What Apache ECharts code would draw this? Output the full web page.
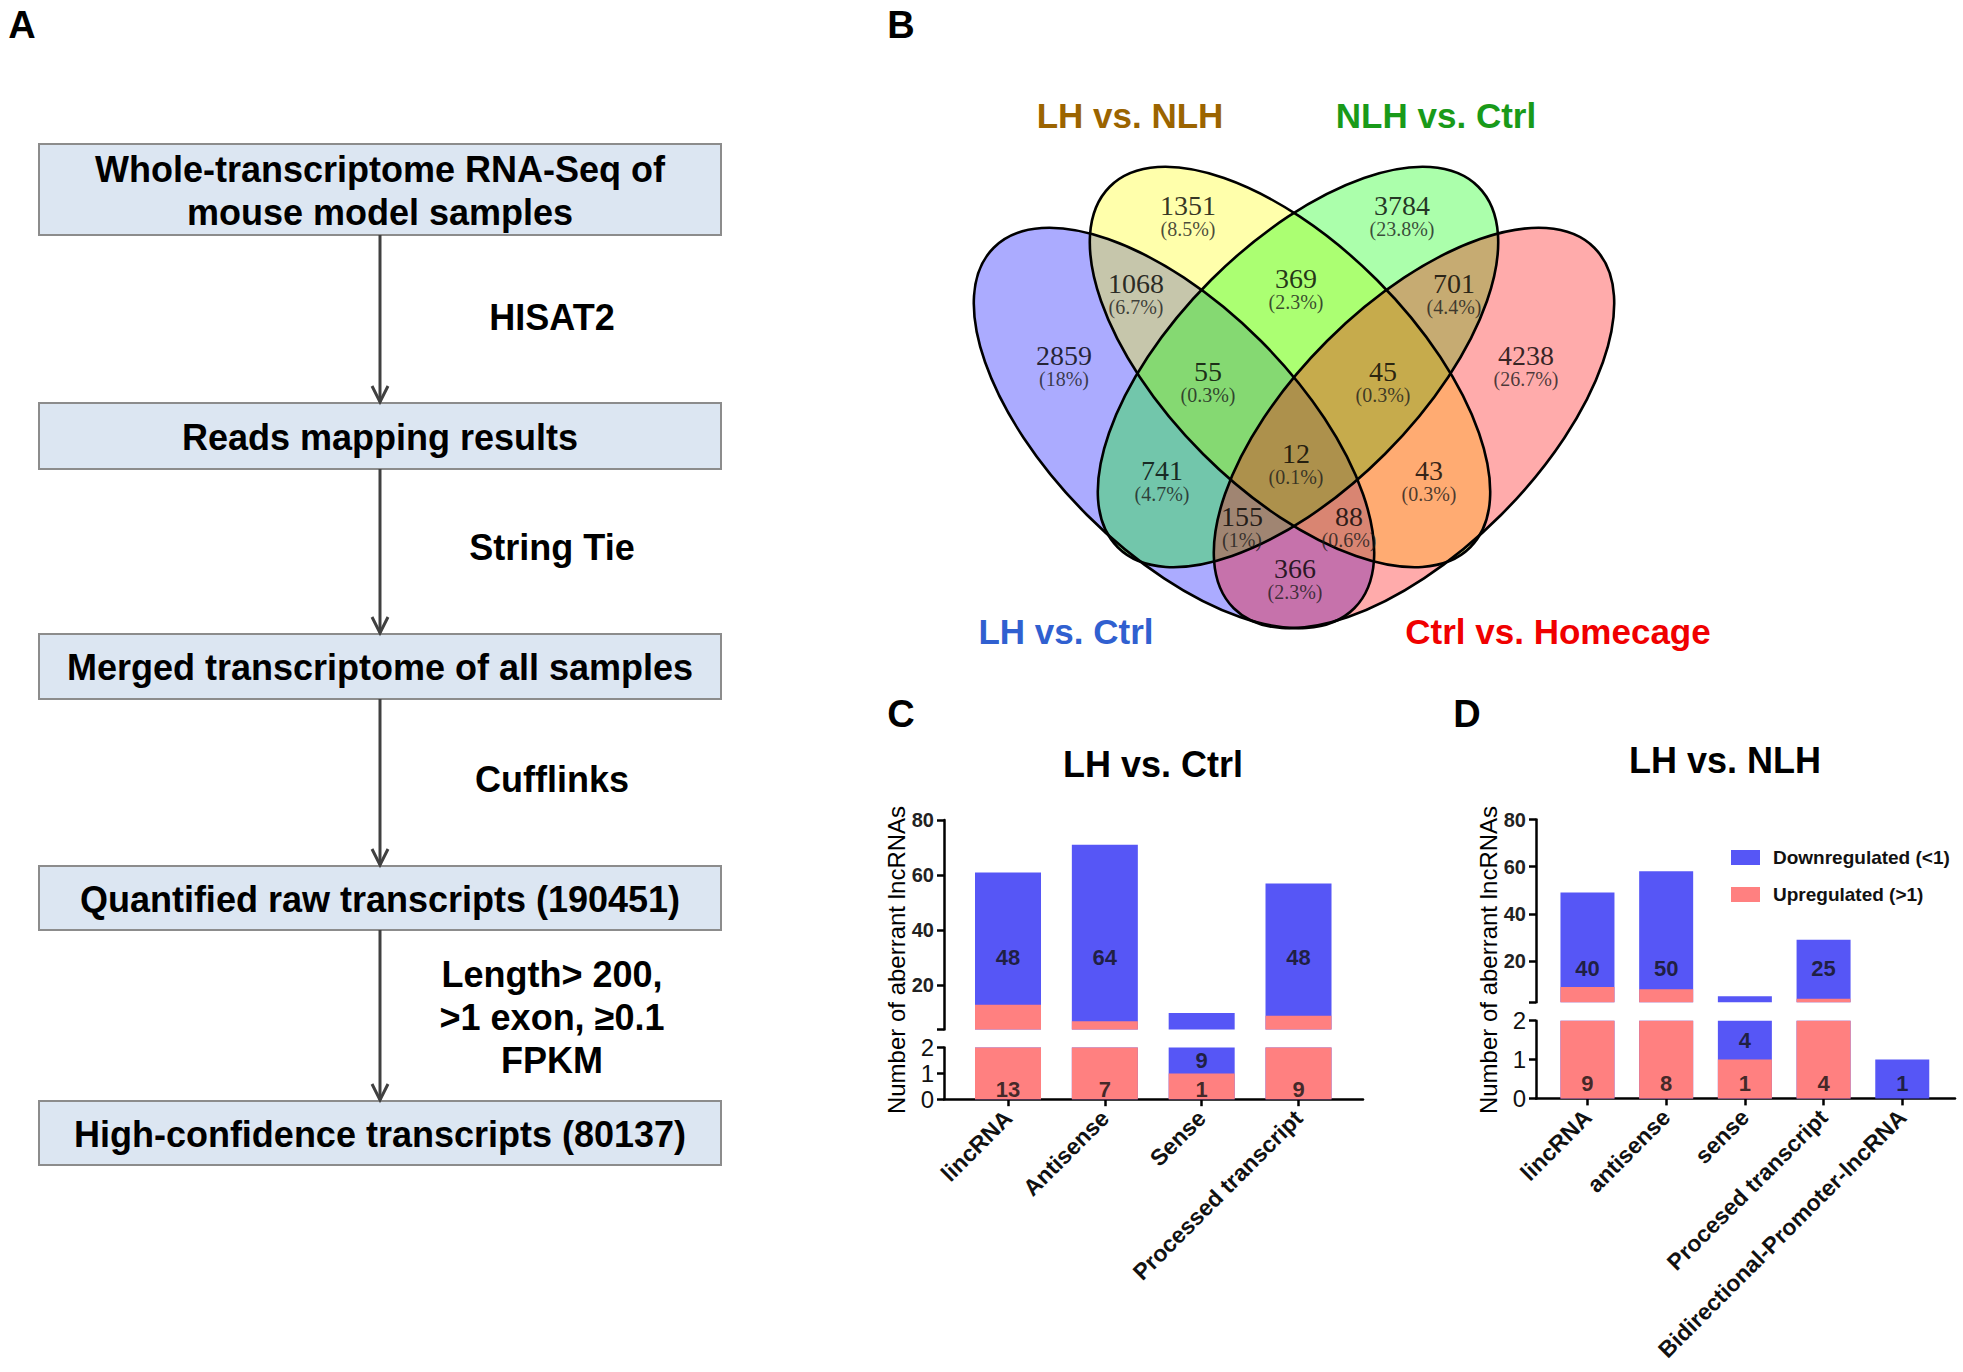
<!DOCTYPE html>
<html><head><meta charset="utf-8">
<script src="https://cdn.jsdelivr.net/npm/echarts@6/dist/echarts.min.js"></script>
<style>html,body{margin:0;padding:0;background:#fff}#main{width:1963px;height:1372px}</style>
</head><body><div id="main"></div>
<script>
// ================= DATA =================
// Panel A: pipeline steps
const flowSteps = ['Whole-transcriptome RNA-Seq of\nmouse model samples', 'Reads mapping results',
  'Merged transcriptome of all samples', 'Quantified raw transcripts (190451)', 'High-confidence transcripts (80137)'];
const flowTools = ['HISAT2', 'String Tie', 'Cufflinks', 'Length> 200,\n>1 exon, \u22650.1\nFPKM'];

// Panel B: Venn
const vennSets = ['LH vs. Ctrl', 'LH vs. NLH', 'NLH vs. Ctrl', 'Ctrl vs. Homecage'];
const vennRegions = ['B', 'Y', 'G', 'R', 'BY', 'YG', 'GR', 'BR', 'BG', 'YR', 'BYG', 'YGR', 'BGR', 'BYR', 'BYGR'];
const vennCounts = [2859, 1351, 3784, 4238, 1068, 369, 701, 366, 741, 43, 55, 45, 155, 88, 12];
const vennPercents = ['18%', '8.5%', '23.8%', '26.7%', '6.7%', '2.3%', '4.4%', '2.3%', '4.7%', '0.3%', '0.3%', '0.3%', '1%', '0.6%', '0.1%'];

// Panel C: LH vs. Ctrl
const cCategories = ['lincRNA', 'Antisense', 'Sense', 'Processed transcript'];
const cUp = [13, 7, 1, 9];
const cDown = [48, 64, 9, 48];
// Panel D: LH vs. NLH
const dCategories = ['lincRNA', 'antisense', 'sense', 'Procesed transcript', 'Bidirectional-Promoter-lncRNA'];
const dUp = [9, 8, 1, 4, 0];
const dDown = [40, 50, 4, 25, 1];

const upperTickLabels = [20, 40, 60, 80];
const lowerTickLabels = [0, 1, 2];
const seriesNames = ['Downregulated (<1)', 'Upregulated (>1)'];

// ================= LAYOUT / STYLE =================
const BLUE = '#5656F6', PINK = '#FF8080';
const SANS = '"Liberation Sans", Arial, sans-serif';
const SERIF = '"Liberation Serif", "Times New Roman", serif';

const flowBoxLayout = [{y: 144, h: 91}, {y: 403, h: 66}, {y: 634, h: 65}, {y: 866, h: 64}, {y: 1101, h: 64}];
const flowBoxX = 39, flowBoxW = 682, flowArrowX = 380, flowToolX = 552;
const toolY = [317, 547, 779, 1017];

// Venn geometry in a local frame (grid 4: origin at 960,140, 1 unit = 1px)
const vennEllipses = [
  {cx: 214, cy: 288, a: 255, b: 123, rot: -45, fill: 'rgba(0,0,255,0.33)'},
  {cx: 330, cy: 227, a: 255, b: 123, rot: -45, fill: 'rgba(255,255,0,0.33)'},
  {cx: 338, cy: 227, a: 255, b: 123, rot: 45, fill: 'rgba(0,255,0,0.33)'},
  {cx: 454, cy: 288, a: 255, b: 123, rot: 45, fill: 'rgba(255,0,0,0.33)'}
];
const vennLabelPos = [[104, 215], [228, 65], [442, 65], [566, 215], [176, 143], [336, 138], [494, 143],
  [335, 428], [202, 330], [469, 330], [248, 231], [423, 231], [282, 376], [389, 376], [336, 313]];
const vennSetLabelLayout = [
  {x: 1066, y: 631, color: '#3060D0'}, {x: 1130, y: 115, color: '#9B6400'},
  {x: 1436, y: 115, color: '#199A19'}, {x: 1558, y: 631, color: '#F00000'}
];

const C_LABEL_UPPER = 30, D_LABEL_UPPER = 17;

// ================= BUILD =================
const graphic = [];
[['A', 22, 25], ['B', 901, 25], ['C', 901, 714], ['D', 1467, 714]].forEach(([t, x, y]) => {
  graphic.push({type: 'text', style: {text: t, x, y, textAlign: 'center', textVerticalAlign: 'middle',
    font: 'bold 38px ' + SANS, fill: '#000'}});
});
flowSteps.forEach((s, i) => {
  const L = flowBoxLayout[i];
  graphic.push({type: 'rect', shape: {x: flowBoxX, y: L.y, width: flowBoxW, height: L.h},
    style: {fill: '#DCE6F2', stroke: '#8C8C8C', lineWidth: 2}});
  graphic.push({type: 'text', style: {text: s, x: flowBoxX + flowBoxW / 2, y: L.y + L.h / 2 + 1,
    textAlign: 'center', textVerticalAlign: 'middle', font: 'bold 36px ' + SANS, fill: '#000', lineHeight: 43}});
});
flowTools.forEach((t, i) => {
  const top = flowBoxLayout[i].y + flowBoxLayout[i].h, bot = flowBoxLayout[i + 1].y;
  graphic.push({type: 'line', shape: {x1: flowArrowX, y1: top, x2: flowArrowX, y2: bot - 1},
    style: {stroke: '#404040', lineWidth: 3}});
  graphic.push({type: 'polyline', shape: {points: [[flowArrowX - 8, bot - 17], [flowArrowX, bot - 1], [flowArrowX + 8, bot - 17]]},
    style: {stroke: '#404040', lineWidth: 3, fill: null}});
  graphic.push({type: 'text', style: {text: t, x: flowToolX, y: toolY[i], textAlign: 'center', textVerticalAlign: 'middle',
    font: 'bold 36px ' + SANS, fill: '#000', lineHeight: 43}});
});
vennSets.forEach((s, i) => {
  const L = vennSetLabelLayout[i];
  graphic.push({type: 'text', style: {text: s, x: L.x, y: L.y, textAlign: 'center', textVerticalAlign: 'middle',
    font: 'bold 35px ' + SANS, fill: L.color}});
});
[['LH vs. Ctrl', 1153, 764], ['LH vs. NLH', 1725, 760]].forEach(([t, x, y]) => {
  graphic.push({type: 'text', style: {text: t, x, y, textAlign: 'center', textVerticalAlign: 'middle',
    font: 'bold 36px ' + SANS, fill: '#000'}});
});
[896, 1488].forEach(x => {
  graphic.push({type: 'text', x: x, y: 960, rotation: Math.PI / 2,
    style: {text: 'Number of aberrant lncRNAs', x: 0, y: 0, textAlign: 'center', textVerticalAlign: 'middle',
      font: '24px ' + SANS, fill: '#000'}});
});

const grids = [
  {left: 944, top: 820, width: 419, height: 209.5},     // C upper
  {left: 944, top: 1047.6, width: 419, height: 51.6},   // C lower
  {left: 1536, top: 819.5, width: 419, height: 182.7},  // D upper
  {left: 1536, top: 1020.7, width: 419, height: 77.7},  // D lower
  {left: 960, top: 140, width: 680, height: 520}        // Venn frame
].map(g => Object.assign({outerBoundsMode: 'none', containLabel: false}, g));

function xAxisFor(gi, cats, min, max, showAxis) {
  const idx = cats.map((c, i) => i);
  return {
    gridIndex: gi, type: 'value', min, max, show: showAxis,
    splitLine: {show: false},
    axisLine: {show: true, onZero: false, lineStyle: {color: '#000', width: 2.5}},
    axisTick: {show: true, customValues: idx, length: 7, lineStyle: {color: '#000', width: 2.5}},
    axisLabel: {show: true, customValues: idx, rotate: 45, margin: 15, hideOverlap: false,
      formatter: v => cats[Math.round(v)] || '', fontFamily: SANS, fontWeight: 'bold', fontSize: 23, color: '#111'}
  };
}
function yUpper(gi, min) {
  return {
    gridIndex: gi, type: 'value', min, max: 80,
    splitLine: {show: false},
    axisLine: {show: true, onZero: false, lineStyle: {color: '#000', width: 2.5}},
    axisTick: {show: true, customValues: [min].concat(upperTickLabels), length: 7, lineStyle: {color: '#000', width: 2.5}},
    axisLabel: {customValues: upperTickLabels, margin: 10, fontFamily: SANS, fontWeight: 'bold', fontSize: 20, color: '#222'}
  };
}
function yLower(gi) {
  return {
    gridIndex: gi, type: 'value', min: 0, max: 2,
    splitLine: {show: false},
    axisLine: {show: true, onZero: false, lineStyle: {color: '#000', width: 2.5}},
    axisTick: {show: true, customValues: lowerTickLabels, length: 7, lineStyle: {color: '#000', width: 2.5}},
    axisLabel: {customValues: lowerTickLabels, margin: 10, fontFamily: SANS, fontSize: 24, color: '#111'}
  };
}

const xAxis = [
  xAxisFor(0, cCategories, -0.661, 3.666, false),
  xAxisFor(1, cCategories, -0.661, 3.666, true),
  xAxisFor(2, dCategories, -0.654, 4.67, false),
  xAxisFor(3, dCategories, -0.654, 4.67, true),
  {gridIndex: 4, type: 'value', min: 0, max: 680, show: false}
];
const yAxis = [
  yUpper(0, 4), yLower(1), yUpper(2, 2.5), yLower(3),
  {gridIndex: 4, type: 'value', min: 0, max: 520, inverse: true, show: false}
];

// Stacked columns: the downregulated part sits on top of the upregulated part,
// so the blue column spans 0..(up+down) and the pink column 0..up is drawn over it.
function barSeries(ai, up, down, width) {
  return [
    {type: 'bar', name: seriesNames[0], xAxisIndex: ai, yAxisIndex: ai, barWidth: width, barGap: '-100%',
      clip: true, itemStyle: {color: BLUE}, data: down.map((v, i) => [i, up[i] + v])},
    {type: 'bar', name: seriesNames[1], xAxisIndex: ai, yAxisIndex: ai, barWidth: width, barGap: '-100%',
      clip: true, itemStyle: {color: PINK}, data: up.map((v, i) => [i, v])}
  ];
}
const labelStyle = {show: true, position: 'inside', fontFamily: SANS, fontWeight: 'bold', fontSize: 22, color: '#111',
  formatter: p => String(p.value[2])};
function labelSeries(upperIdx, lowerIdx, up, down, upperY) {
  const upperData = [], lowerData = [];
  down.forEach((d, i) => {
    if (d >= 20) upperData.push([i, upperY, d]);
    else lowerData.push([i, up[i] > 0 ? 1.5 : 0.38, d]);
  });
  up.forEach((u, i) => { if (u > 0) lowerData.push([i, 0.38, u]); });
  const base = {type: 'scatter', symbolSize: 1, silent: true, z: 5, itemStyle: {color: 'rgba(0,0,0,0)'}, label: labelStyle};
  return [
    Object.assign({}, base, {name: 'lab' + upperIdx, xAxisIndex: upperIdx, yAxisIndex: upperIdx, data: upperData}),
    Object.assign({}, base, {name: 'lab' + lowerIdx, xAxisIndex: lowerIdx, yAxisIndex: lowerIdx, data: lowerData})
  ];
}

function ellipseRenderer(isLine) {
  return (params, api) => {
    const e = vennEllipses[params.dataIndex];
    const c = api.coord([api.value(0), api.value(1)]);
    const s = api.size([e.a, e.b]);
    return {type: 'ellipse', x: c[0], y: c[1], rotation: e.rot * Math.PI / 180,
      shape: {cx: 0, cy: 0, rx: s[0], ry: s[1]},
      style: isLine ? {fill: null, stroke: '#000', lineWidth: 2.6} : {fill: e.fill, stroke: null}};
  };
}

const series = [].concat(
  barSeries(0, cUp, cDown, 66), barSeries(1, cUp, cDown, 66),
  barSeries(2, dUp, dDown, 54), barSeries(3, dUp, dDown, 54),
  labelSeries(0, 1, cUp, cDown, C_LABEL_UPPER), labelSeries(2, 3, dUp, dDown, D_LABEL_UPPER),
  [
    {type: 'custom', name: 'venn-fill', xAxisIndex: 4, yAxisIndex: 4, silent: true, z: 2,
      data: vennEllipses.map(e => [e.cx, e.cy]), renderItem: ellipseRenderer(false)},
    {type: 'custom', name: 'venn-line', xAxisIndex: 4, yAxisIndex: 4, silent: true, z: 3,
      data: vennEllipses.map(e => [e.cx, e.cy]), renderItem: ellipseRenderer(true)},
    {type: 'scatter', name: 'venn-labels', xAxisIndex: 4, yAxisIndex: 4, symbolSize: 1, silent: true, z: 6,
      itemStyle: {color: 'rgba(0,0,0,0)'},
      data: vennLabelPos.map(p => [p[0], p[1] + 10]),
      label: {show: true, position: 'inside',
        formatter: p => '{n|' + vennCounts[p.dataIndex] + '}\n{p|(' + vennPercents[p.dataIndex] + ')}',
        rich: {
          n: {fontFamily: SERIF, fontSize: 28, lineHeight: 28, color: '#000', align: 'center'},
          p: {fontFamily: SERIF, fontSize: 20, lineHeight: 20, color: '#1a1a1a', align: 'center'}
        }}}
  ]
);

const chart = echarts.init(document.getElementById('main'), null, {renderer: 'svg', width: 1963, height: 1372});
chart.setOption({
  backgroundColor: '#fff',
  animation: false,
  textStyle: {fontFamily: SANS},
  legend: {data: seriesNames, orient: 'vertical', left: 1726, top: 843, itemWidth: 29, itemHeight: 15, itemGap: 18,
    icon: 'rect', selectedMode: false,
    textStyle: {fontFamily: SANS, fontWeight: 'bold', fontSize: 19, color: '#111', padding: [0, 0, 0, 8], lineHeight: 15}},
  grid: grids, xAxis, yAxis, series, graphic
});
</script></body></html>
